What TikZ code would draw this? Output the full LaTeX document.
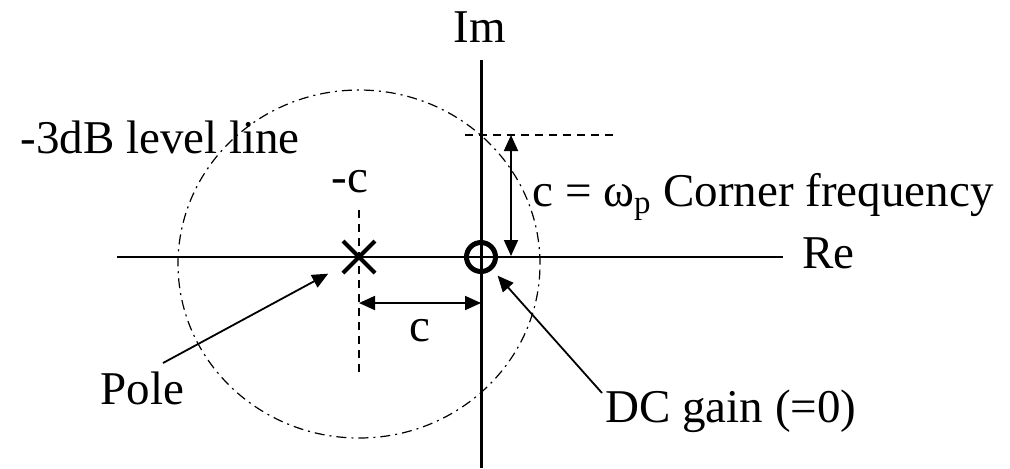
\documentclass[tikz,border=0pt]{standalone}
\usepackage{fontspec}
\setmainfont{Liberation Serif}
\usetikzlibrary{arrows.meta}

\begin{document}
\begin{tikzpicture}[
    x=0.5pt, y=-0.5pt,
    every node/.style={font=\fontsize{23.5}{28}\selectfont, inner sep=0pt},
    % Axis styles
    re axis/.style={line width=1pt},
    im axis/.style={line width=1.5pt},
    % Guide line styles
    guide/.style={dashed, line width=0.9pt, dash pattern=on 4pt off 3pt},
    level line/.style={line width=0.6pt, dash pattern=on 5pt off 2.5pt on 1pt off 2.5pt},
    % Arrow styles
    dimension/.style={<->, >={Triangle[length=8pt, width=7pt]}, line width=0.9pt},
    pointer/.style={->, >={Triangle[length=8pt, width=7pt]}, line width=0.9pt},
    % Pole and zero marks
    pole mark/.style={line width=2pt},
    zero mark/.style={circle, draw, line width=2.5pt, minimum size=14.5pt}
]
\useasboundingbox (0,0) rectangle (1010,468);

% --- Key points ---
\coordinate (origin) at (481,257);
\coordinate (pole) at (359,257);
\coordinate (reL) at (117,257);
\coordinate (reR) at (783,257);
\coordinate (imT) at (481,60);
\coordinate (imB) at (481,468);

% --- Axes ---
\draw[re axis] (reL) -- (reR);
\draw[im axis] (imT) -- (imB);
\node[anchor=base west] (re) at (802,268) {Re};
\node[anchor=base west] (im) at (453,42) {Im};

% --- -3dB level line ---
\draw[level line] (359,264) ellipse [x radius=90.5pt, y radius=87pt];
\node[anchor=base west] (level) at (20,153) {-3dB level line};

% --- Pole ---
\coordinate (poleT) at (359,210);
\coordinate (poleB) at (359,373);
\draw[guide] (poleT) -- (poleB);
\draw[pole mark] ([shift={(-16,-16)}]pole) -- ([shift={(16,16)}]pole);
\draw[pole mark] ([shift={(-16,16)}]pole) -- ([shift={(16,-16)}]pole);
\node[anchor=base] (minusc) at (350,192) {-c};

% --- Zero ---
\node[zero mark] (zero) at (origin) {};

% --- Distance c ---
\coordinate (cL) at (359,303);
\coordinate (cR) at (481,303);
\draw[dimension] (cL) -- (cR);
\node[anchor=base] (c) at (420,341) {c};

% --- Corner frequency ---
\coordinate (cornerL) at (465,135);
\coordinate (cornerR) at (613,135);
\coordinate (wT) at (511,135);
\coordinate (wB) at (511,256);
\draw[guide] (cornerL) -- (cornerR);
\draw[dimension] (wT) -- (wB);
\node[anchor=base west] (corner) at (532,206) {c = ω\textsubscript{p} Corner frequency};

% --- Labels with pointers ---
\node[anchor=base west] (polelbl) at (100,404) {Pole};
\coordinate (poletail) at (163,363);
\draw[pointer, shorten >=17.5pt] (poletail) -- (pole);

\node[anchor=base west] (dc) at (605,422) {DC gain (=0)};
\coordinate (dctail) at (602,393);
\draw[pointer, shorten >=4pt] (dctail) -- (zero);

\end{tikzpicture}
\end{document}
